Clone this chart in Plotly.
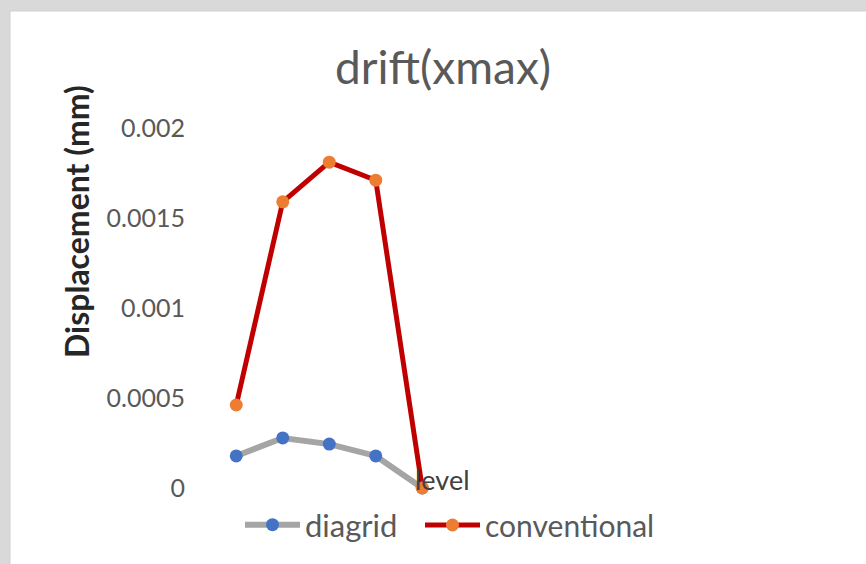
import plotly.graph_objects as go

# Storey levels and peak drift displacements (mm)
levels = [1, 2, 3, 4, 5]
diagrid = [0.000178, 0.000278, 0.000244, 0.000178, 0.0]
conventional = [0.000461, 0.00159, 0.00181, 0.00171, 0.0]
y_ticks = [0, 0.0005, 0.001, 0.0015, 0.002]
y_tick_text = ["0", "0.0005", "0.001", "0.0015", "0.002"]

W, H = 866, 564
L, R, T, B = 213, 188, 128, 76
pw, ph = W - L - R, H - T - B


def px_x(px):
    return (px - L) / pw


def px_y(py):
    return (H - B - py) / ph


FONT = "Lato"
GREY = "#595959"

fig = go.Figure()
fig.add_trace(go.Scatter(
    x=levels, y=diagrid, name="diagrid", mode="lines+markers",
    line=dict(color="#A5A5A5", width=6),
    marker=dict(color="#4472C4", size=13),
    cliponaxis=False, legend="legend",
))
fig.add_trace(go.Scatter(
    x=levels, y=conventional, name="conventional", mode="lines+markers",
    line=dict(color="#C00000", width=5),
    marker=dict(color="#ED7D31", size=13),
    cliponaxis=False, legend="legend2",
))


def legend_box(px_left, size):
    return dict(
        orientation="h", x=px_x(px_left), y=px_y(525),
        xanchor="left", yanchor="middle",
        font=dict(size=size, color=GREY, family=FONT),
        itemwidth=55, bgcolor="rgba(0,0,0,0)",
    )


fig.update_layout(
    width=W, height=H,
    margin=dict(l=L, r=R, t=T, b=B),
    paper_bgcolor="#d9d9d9",
    plot_bgcolor="rgba(0,0,0,0)",
    font=dict(family=FONT, color=GREY),
    showlegend=True,
    legend=legend_box(240, 31),
    legend2=legend_box(420, 30),
    xaxis=dict(
        range=[0.5, 10.5], showgrid=False, zeroline=False,
        showticklabels=False, showline=False, ticks="",
    ),
    yaxis=dict(
        range=[0, 0.002], tickvals=y_ticks, ticktext=y_tick_text,
        showgrid=False, zeroline=False, showline=False, ticks="",
        ticklabelstandoff=27,
        tickfont=dict(size=25, color=GREY, family=FONT),
    ),
    shapes=[
        dict(type="rect", xref="paper", yref="paper",
             x0=px_x(10), x1=px_x(870), y0=px_y(570), y1=px_y(11),
             fillcolor="white", line=dict(color="#cfcfcf", width=1),
             layer="below"),
    ],
    annotations=[
        dict(text="drift(xmax)", xref="paper", yref="paper",
             x=px_x(443), y=px_y(67), showarrow=False,
             xanchor="center", yanchor="middle",
             font=dict(size=46, color=GREY, family=FONT)),
        dict(text="<b>Displacement (mm)</b>", xref="paper", yref="paper",
             x=px_x(76), y=px_y(222), showarrow=False, textangle=-90,
             xanchor="center", yanchor="middle",
             font=dict(size=32, color="#262626", family=FONT)),
        dict(text="level", xref="paper", yref="paper",
             x=px_x(442), y=px_y(479), showarrow=False,
             xanchor="center", yanchor="middle",
             font=dict(size=27, color="#404040", family=FONT)),
    ],
)

fig.write_html("out.html")
